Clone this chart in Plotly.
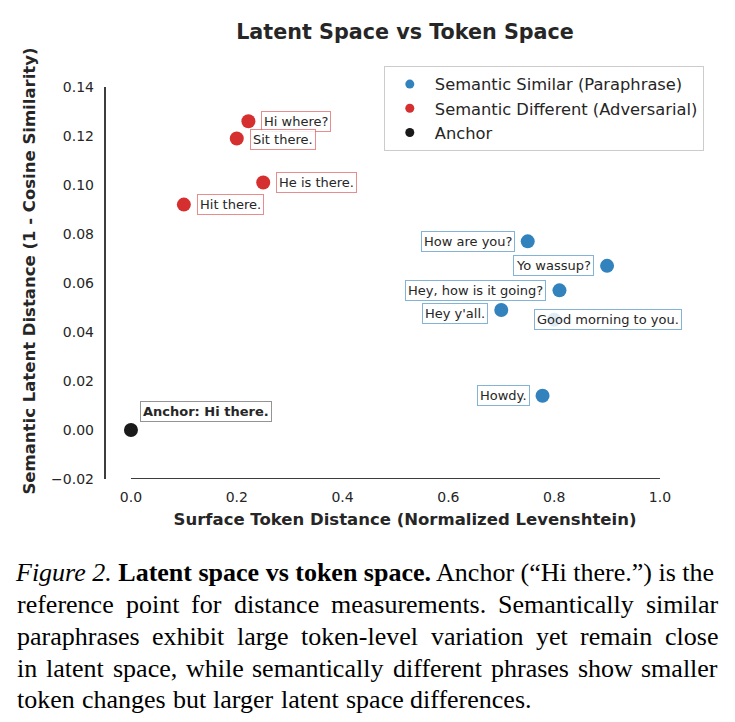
import plotly.graph_objects as go

# ---------------- data ----------------
para_text = ["How are you?", "Yo wassup?", "Hey, how is it going?", "Hey y'all.",
             "Good morning to you.", "Howdy."]
para_x = [0.75, 0.90, 0.81, 0.70, 0.80, 0.778]
para_y = [0.077, 0.067, 0.057, 0.049, 0.045, 0.014]

adv_text = ["Hi where?", "Sit there.", "He is there.", "Hit there."]
adv_x = [0.222, 0.200, 0.250, 0.100]
adv_y = [0.126, 0.119, 0.101, 0.092]

anchor_text = ["Anchor: Hi there."]
anchor_x = [0.0]
anchor_y = [0.0]

series_names = ["Semantic Similar (Paraphrase)", "Semantic Different (Adversarial)", "Anchor"]

x_ticks = [0.0, 0.2, 0.4, 0.6, 0.8, 1.0]
y_ticks = [-0.02, 0.0, 0.02, 0.04, 0.06, 0.08, 0.10, 0.12, 0.14]

caption_first = "<i>Figure 2.</i> <b>Latent space vs token space.</b> Anchor (\u201cHi there.\u201d) is the"
caption_lines = [
    "reference point for distance measurements. Semantically similar",
    "paraphrases exhibit large token-level variation yet remain close",
    "in latent space, while semantically different phrases show smaller",
    "token changes but larger latent space differences.",
]

# ---------------- styles / layout positions ----------------
W, H = 735, 722
ML, MR, MT, MB = 105, 30, 63, 243
PW, PH = W - ML - MR, H - MT - MB
XR = [-0.0491, -0.0491 + PW / 529.0]
YR = [-0.02, -0.02 + PH / 2450.0]

BLUE = "#3182bd"
RED = "#d62f2f"
BLACK = "#1a1a1a"
TXT = "#262626"
FONT = "DejaVu Sans"
SERIF = "Liberation Serif"
CAP_SIZE = 26
CAP_LEFT, CAP_RIGHT = 17, 718
CAP_Y = [572, 604, 636, 668, 699]

# Times-compatible advance widths (1/1000 em) used to justify caption lines
TW = dict(zip("abcdefghijklmnopqrstuvwxyz",
              [444, 500, 444, 500, 444, 333, 500, 500, 278, 278, 500, 278, 778,
               500, 500, 500, 500, 333, 389, 278, 500, 500, 722, 500, 500, 444]))
TW.update({".": 250, ",": 250, "-": 333, "S": 556, " ": 250})

# label offsets in px (xanchor side, xshift, yshift)
para_off = [("right", -13, 0), ("right", -13, 0), ("right", -13, 0), ("right", -13, -4),
            ("left", -20, 0), ("right", -13, 0)]
adv_off = [("left", 13, 0), ("left", 13, -1), ("left", 13, 0), ("left", 13, 0)]
anchor_off = [("left", 9, 19)]


def px2paper(px, py):
    return (px - ML) / PW, (MT + PH - py) / PH


fig = go.Figure()

groups = [
    (para_x, para_y, para_text, BLUE, series_names[0]),
    (adv_x, adv_y, adv_text, RED, series_names[1]),
    (anchor_x, anchor_y, anchor_text, BLACK, series_names[2]),
]
for i, (xs, ys, ts, col, name) in enumerate(groups):
    fig.add_trace(go.Scatter(x=xs, y=ys, mode="markers", name=name, text=ts,
                             marker=dict(size=14, color=col, line=dict(width=0)),
                             showlegend=False, legendgroup=f"g{i}"))
    # legend proxy with smaller marker
    fig.add_trace(go.Scatter(x=[None], y=[None], mode="markers", name=name,
                             marker=dict(size=9, color=col),
                             showlegend=True, legendgroup=f"g{i}"))

annos = []
border_cols = ["rgba(49,130,189,0.6)", "rgba(214,47,47,0.55)", "rgba(90,90,90,0.65)"]
offs = [para_off, adv_off, anchor_off]
for gi, (xs, ys, ts, col, name) in enumerate(groups):
    for j, t in enumerate(ts):
        side, dx, dy = offs[gi][j]
        label = f"<b>{t}</b>" if gi == 2 else t
        annos.append(dict(x=xs[j], y=ys[j], xref="x", yref="y", text=label,
                          showarrow=False, xanchor=side, yanchor="middle",
                          xshift=dx, yshift=dy,
                          font=dict(family=FONT, size=13, color=TXT),
                          bgcolor="rgba(255,255,255,0.85)",
                          bordercolor=border_cols[gi], borderwidth=1, borderpad=2))

# caption: first line as one piece
px, py = px2paper(CAP_LEFT - 3, CAP_Y[0])
annos.append(dict(x=px, y=py, xref="paper", yref="paper", text=caption_first,
                  showarrow=False, xanchor="left", yanchor="middle", borderpad=0,
                  font=dict(family=SERIF, size=CAP_SIZE, color="black")))


def word_w(w):
    return sum(TW.get(c, 500) for c in w) / 1000.0 * CAP_SIZE


for k, line in enumerate(caption_lines):
    yy = CAP_Y[k + 1]
    last = (k == len(caption_lines) - 1)
    words = line.split(" ")
    widths = [word_w(w) for w in words]
    if last:
        gap = TW[" "] / 1000.0 * CAP_SIZE + 0.6
    else:
        gap = (CAP_RIGHT - CAP_LEFT - sum(widths)) / (len(words) - 1)
    cx = CAP_LEFT
    for w, ww in zip(words, widths):
        px, py = px2paper(cx, yy)
        annos.append(dict(x=px, y=py, xref="paper", yref="paper", text=w,
                          showarrow=False, xanchor="left", yanchor="middle",
                          borderpad=0, borderwidth=0,
                          font=dict(family=SERIF, size=CAP_SIZE, color="black")))
        cx += ww + gap

fig.update_layout(annotations=annos)

# trimmed spines
fig.add_shape(type="line", xref="x", yref="y", x0=x_ticks[0], x1=x_ticks[-1],
              y0=y_ticks[0], y1=y_ticks[0], line=dict(color="#3d3d3d", width=2))
fig.add_shape(type="line", xref="paper", yref="y", x0=0, x1=0,
              y0=y_ticks[0], y1=y_ticks[-1], line=dict(color="#3d3d3d", width=2))

fig.update_xaxes(range=XR, tickvals=x_ticks, tickformat=".1f", showgrid=False,
                 zeroline=False, showline=False, ticks="", ticklabelstandoff=8,
                 tickfont=dict(family=FONT, size=14, color=TXT),
                 title=dict(text="<b>Surface Token Distance (Normalized Levenshtein)</b>",
                            font=dict(family=FONT, size=16.5, color=TXT), standoff=9))
fig.update_yaxes(range=YR, tickvals=y_ticks, tickformat=".2f", showgrid=False,
                 zeroline=False, showline=False, ticks="", ticklabelstandoff=10,
                 tickfont=dict(family=FONT, size=14, color=TXT),
                 title=dict(text="<b>Semantic Latent Distance (1 - Cosine Similarity)</b>",
                            font=dict(family=FONT, size=16.5, color=TXT), standoff=11))

fig.update_layout(
    width=W, height=H, margin=dict(l=ML, r=MR, t=MT, b=MB, autoexpand=False),
    paper_bgcolor="white", plot_bgcolor="white",
    title=dict(text="<b>Latent Space vs Token Space</b>", x=0.5, xref="paper",
               y=1 - 32 / H, yanchor="middle", yref="container",
               font=dict(family=FONT, size=20.7, color=TXT)),
    legend=dict(x=0.998, y=(MT + PH - 66) / PH, xanchor="right", yanchor="top",
                bgcolor="white", bordercolor="#cccccc", borderwidth=1,
                font=dict(family=FONT, size=16.3, color=TXT),
                itemwidth=40, tracegroupgap=0, traceorder="grouped"),
)

fig.write_html("out.html")
